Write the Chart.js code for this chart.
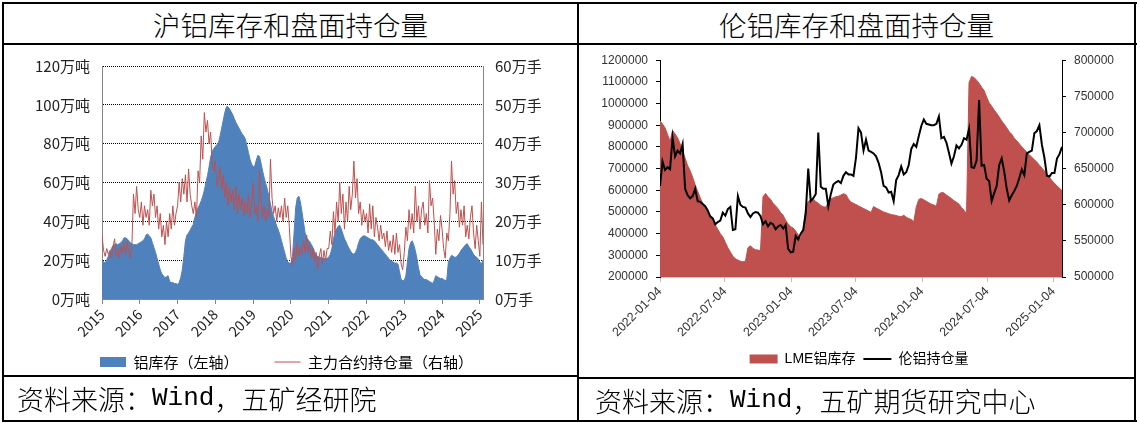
<!DOCTYPE html>
<html lang="zh-CN">
<head>
<meta charset="utf-8">
<title>铝库存和盘面持仓量</title>
<script src="https://cdn.jsdelivr.net/npm/chart.js@4.4.1/dist/chart.umd.min.js"></script>
<style>
  html, body { margin: 0; padding: 0; background: #fff; }
  body { width: 1140px; height: 423px; position: relative; overflow: hidden;
         font-family: "Noto Sans CJK SC", sans-serif; color: #000; }
  canvas { position: absolute; }
  .rule { position: absolute; background: #000; z-index: 3; }
  .title { position: absolute; top: 4px; height: 39px; display: flex; align-items: center;
           justify-content: center; font-size: 27.5px; font-weight: 300; white-space: nowrap; }
  .source { position: absolute; height: 42px; display: flex; align-items: center;
            font-size: 27px; font-weight: 300; white-space: nowrap; background: #fff; z-index: 2; }
  .source .latin { font-family: "Liberation Mono", monospace; font-size: 26px; }
</style>
</head>
<body>
  <div class="title" style="left:4px;width:573px">沪铝库存和盘面持仓量</div>
  <div class="title" style="left:579px;width:555px">伦铝库存和盘面持仓量</div>

  <canvas id="shfeChart" width="573" height="360" style="left:4px;top:45px"></canvas>
  <canvas id="lmeChart" width="555" height="340" style="left:579px;top:45px"></canvas>

  <div class="source" style="left:17px;top:377px">资料来源：<span class="latin">Wind</span>，五矿经研院</div>
  <div class="source" style="left:595px;top:379px">资料来源：<span class="latin">Wind</span>，五矿期货研究中心</div>

  <!-- table frame -->
  <div class="rule" style="left:2px;top:2px;width:1135px;height:2px"></div>
  <div class="rule" style="left:2px;top:420px;width:1135px;height:2px"></div>
  <div class="rule" style="left:2px;top:2px;width:2px;height:420px"></div>
  <div class="rule" style="left:1134px;top:2px;width:2px;height:420px"></div>
  <div class="rule" style="left:577px;top:2px;width:2px;height:420px"></div>
  <div class="rule" style="left:2px;top:43px;width:1135px;height:2px"></div>
  <div class="rule" style="left:2px;top:375px;width:577px;height:2px"></div>
  <div class="rule" style="left:577px;top:377px;width:559px;height:2px"></div>

<script>
// ---------- SHFE: half-monthly samples, Jan 2015 – Feb 2025 ----------
const years = ['2015', '2016', '2017', '2018', '2019', '2020', '2021', '2022', '2023', '2024', '2025'];
const SAMPLES_PER_YEAR = 24;

// 上期所铝库存（万吨）
const shfeStock = [
  20, 19, 18.5, 20, 22, 24, 26, 27.5, 28, 28.5, 28, 28.5, 29, 30, 31.5, 31.5, 31, 30, 29, 28.5, 28, 28, 28, 28.5,
  29, 29.5, 30, 31, 33, 33.5, 32.5, 31.5, 29, 26.5, 24, 21, 18, 15, 13, 12, 11, 11.5, 12, 9, 8.5, 8.5, 8, 8,
  7.5, 8.5, 11, 15, 22, 30, 33, 34, 35.5, 37, 38.5, 42, 45, 47, 48.5, 50.5, 53, 56, 60, 63.5, 68, 73, 76, 77.5,
  78.5, 79.5, 80.5, 84, 88, 92, 96, 99, 99, 98, 96.5, 95, 93, 91, 89.5, 88, 86.5, 85, 84, 82.5, 79, 75.5, 72, 69.5,
  68, 68.5, 71.5, 74, 73.5, 70, 66, 62.5, 59.5, 56.5, 53, 49, 45, 42.5, 40, 37.5, 35.5, 33, 30, 27, 24, 21, 19, 18.5,
  18.5, 22, 34, 47, 52, 53, 50, 45, 39.5, 34, 31.5, 30.5, 29.5, 28, 26.5, 24.5, 22.5, 22, 21.5, 21.5, 21, 21, 20.5, 21,
  21.5, 23, 26, 31, 34, 36, 37.5, 38, 36, 33.5, 31, 29.5, 27.5, 26, 24.5, 23.5, 23, 24, 26, 29, 31, 32, 32.5, 32.5,
  32, 31.5, 31, 30.5, 30.5, 30, 29, 28, 27, 26, 25, 24, 23, 22, 21, 20, 19.5, 19, 18.5, 18.5, 18, 14, 10, 9.5,
  9.5, 12, 19, 26, 29, 30, 28, 25, 21, 16, 12.5, 11.5, 10.5, 10, 10, 9.5, 9, 8.5, 8, 9.5, 12, 11.5, 11, 10.5,
  10.5, 10, 9.5, 10, 19, 21, 22.5, 22, 21.5, 21.5, 22.5, 23.5, 25, 26, 27, 28, 28.5, 27, 26, 24.5, 23, 22, 21.5, 20.5,
  19, 18, 20
];

// 沪铝主力合约持仓量（万手）
const shfeOpenInterest = [
  16.5, 12.5, 11, 13, 11.5, 12.5, 10.5, 13.5, 15.5, 11, 13, 10.5, 13.5, 12, 14.5, 11.5, 15, 12, 10.5, 14, 27, 22, 29, 23,
  21, 25, 19, 24, 21, 23, 19, 28, 24, 27, 21, 24, 18, 22, 16, 19, 14, 20, 16, 22, 18, 24, 19, 22,
  24, 30, 25, 31, 27, 32, 25, 33.5, 27, 24, 22, 25, 21, 33, 30, 42, 36, 48, 43, 46, 40, 43, 35, 33,
  35.5, 29, 31, 34, 28, 32, 26, 30, 24, 29, 25, 28, 23, 29, 22, 27, 23, 26, 21.5, 25, 22, 27, 21, 24,
  30, 22, 24, 20, 33, 25, 21, 24, 20, 23, 21, 36, 26, 22, 24, 20, 23.5, 21, 24, 20, 26, 21, 24, 18.5,
  11, 8.5, 13, 10, 14.5, 11, 13.5, 11.5, 15, 12, 16.5, 12, 14, 10.5, 13, 9.5, 12, 7.5, 11, 13, 9, 12.5, 10, 13,
  13, 17.5, 14, 22.5, 17, 25, 20, 30, 22, 27, 18, 25, 20, 29, 23, 27, 35.5, 26, 31, 22, 25, 19, 23, 20,
  22, 17, 24.5, 18, 24, 16, 21, 18.5, 15, 19, 15.5, 17, 13.5, 17.5, 12.5, 15, 12, 16.5, 11.5, 17, 12, 14, 9, 7.5,
  12, 18.5, 15, 23, 18, 22, 17, 29, 20, 24, 18, 23, 25, 19, 22, 17, 30.5, 24, 26, 20, 11.5, 18, 15, 21.5,
  18, 13, 10.5, 17, 15, 22, 35.5, 27, 30.5, 22, 25, 18.5, 23, 19, 24, 16, 19, 15.5, 21, 24, 17, 13, 19, 15,
  11, 25, 14
];

// ---------- LME: weekly samples from 2022-01-04 ----------
const lmeStartDate = '2022-01-04';
const lmeTickDates = ['2022-01-04', '2022-07-04', '2023-01-04', '2023-07-04', '2024-01-04', '2024-07-04', '2025-01-04'];
const DAYS_PER_SAMPLE = 7;

// LME铝库存（吨）
const lmeStock = [
  920000, 906000, 888000, 858000, 825000, 876000, 860000, 842000, 815000, 780000,
  748000, 714000, 690000, 660000, 625000, 595000, 565000, 540000, 520000, 500000,
  483000, 460000, 440000, 420000, 400000, 385000, 360000, 335000, 315000, 296000,
  284000, 278000, 273000, 270000, 272000, 335000, 344000, 332000, 326000, 324000,
  322000, 570000, 585000, 570000, 558000, 540000, 528000, 515000, 497000, 485000,
  462000, 445000, 432000, 426000, 412000, 395000, 378000, 420000, 520000, 548000,
  558000, 560000, 548000, 540000, 530000, 524000, 522000, 545000, 560000, 566000,
  570000, 572000, 578000, 584000, 580000, 560000, 545000, 540000, 534000, 528000,
  522000, 516000, 510000, 504000, 498000, 525000, 518000, 512000, 506000, 500000,
  496000, 492000, 488000, 486000, 484000, 480000, 478000, 485000, 476000, 470000,
  465000, 455000, 523000, 558000, 562000, 556000, 549000, 542000, 536000, 532000,
  526000, 582000, 590000, 588000, 578000, 570000, 562000, 552000, 545000, 536000,
  520000, 508000, 492000, 1096000, 1125000, 1120000, 1108000, 1094000, 1075000, 1060000,
  1030000, 1004000, 988000, 970000, 955000, 938000, 920000, 905000, 888000, 870000,
  858000, 840000, 828000, 815000, 800000, 788000, 775000, 764000, 752000, 741000,
  730000, 716000, 702000, 690000, 675000, 660000, 645000, 632000, 620000, 610000, 598000
];

// 伦铝持仓量（手）
const lmeOpenInterest = [
  626000, 660000, 648000, 652000, 649000, 693000, 667000, 675000, 671000, 684000,
  622000, 613000, 609000, 612000, 622000, 605000, 604000, 601000, 598000, 592000,
  584000, 581000, 573000, 576000, 578000, 589000, 585000, 594000, 597000, 565000,
  566000, 612000, 600000, 597000, 596000, 588000, 583000, 588000, 590000, 589000,
  584000, 573000, 577000, 570000, 575000, 573000, 566000, 570000, 572000, 567000,
  572000, 539000, 534000, 535000, 557000, 552000, 560000, 565000, 588000, 650000,
  605000, 609000, 615000, 700000, 625000, 622000, 622000, 598000, 615000, 628000,
  631000, 633000, 630000, 640000, 645000, 642000, 642000, 640000, 665000, 706000,
  700000, 675000, 690000, 675000, 673000, 671000, 667000, 658000, 645000, 626000,
  624000, 617000, 618000, 605000, 634000, 641000, 653000, 642000, 645000, 655000,
  677000, 684000, 680000, 695000, 709000, 718000, 712000, 711000, 710000, 710000,
  712000, 722000, 692000, 694000, 686000, 672000, 657000, 667000, 682000, 678000,
  683000, 692000, 690000, 705000, 652000, 651000, 661000, 745000, 654000, 655000,
  636000, 633000, 605000, 616000, 626000, 655000, 664000, 646000, 622000, 606000,
  613000, 619000, 626000, 637000, 649000, 641000, 671000, 673000, 675000, 699000,
  702000, 710000, 683000, 665000, 640000, 639000, 644000, 644000, 664000, 670000, 680000
];

// ---------- helpers ----------
const CJK = '"Noto Sans CJK SC", sans-serif';
const ARIAL = '"Liberation Sans", "Noto Sans CJK SC", sans-serif';
const dayOf = d => (Date.parse(d) - Date.parse(lmeStartDate)) / 86400000;

// legend entries: filled series get a box, line series get a short stroke
const legendItems = chart => chart.data.datasets.map((ds, i) => ({
  text: ds.label,
  datasetIndex: i,
  hidden: false,
  fillStyle: ds.fill ? ds.backgroundColor : 'rgba(0,0,0,0)',
  strokeStyle: ds.borderColor,
  lineWidth: ds.fill ? 0 : ds.borderWidth,
  pointStyle: ds.fill ? 'rect' : 'line'
}));

// moves the legend row vertically after layout (wide item gaps need a large label padding)
const legendShift = {
  id: 'legendShift',
  afterLayout(chart, args, opts) {
    const dy = opts.dy || 0;
    if (chart.legend && dy) {
      chart.legend.top += dy;
      chart.legend.bottom += dy;
    }
  }
};

Chart.defaults.color = '#222';

// ---------- 沪铝库存和盘面持仓量 ----------
new Chart(document.getElementById('shfeChart'), {
  type: 'line',
  plugins: [legendShift],
  data: {
    datasets: [
      {
        label: '铝库存（左轴）',
        data: shfeStock.map((v, i) => ({ x: i, y: v })),
        yAxisID: 'y',
        backgroundColor: '#4F81BD',
        borderColor: '#4F81BD',
        borderWidth: 1,
        fill: 'start',
        pointRadius: 0,
        order: 2
      },
      {
        label: '主力合约持仓量（右轴）',
        data: shfeOpenInterest.map((v, i) => ({ x: i, y: v })),
        yAxisID: 'y1',
        borderColor: '#C0504D',
        borderWidth: 1,
        fill: false,
        pointRadius: 0,
        order: 1
      }
    ]
  },
  options: {
    responsive: false,
    animation: false,
    devicePixelRatio: 1,
    layout: { padding: { left: 0, right: 8, top: 17, bottom: 0 } },
    plugins: {
      tooltip: { enabled: false },
      legendShift: { dy: -25.5 },
      legend: {
        position: 'bottom',
        labels: {
          usePointStyle: true,
          pointStyleWidth: 26,
          boxHeight: 10,
          padding: 36,
          color: '#222',
          font: { family: CJK, size: 15 },
          generateLabels: legendItems
        }
      }
    },
    scales: {
      x: {
        type: 'linear',
        min: 0,
        max: shfeStock.length - 1,
        afterBuildTicks: s => { s.ticks = years.map((_, k) => ({ value: k * SAMPLES_PER_YEAR })); },
        afterFit: s => { s.height = 45; },
        grid: { drawOnChartArea: false, drawTicks: true, tickLength: 5, color: '#868686' },
        border: { color: '#868686' },
        ticks: {
          autoSkip: false, minRotation: 45, maxRotation: 45, padding: 2,
          color: '#222', font: { family: CJK, size: 14 },
          callback: v => years[Math.round(v / SAMPLES_PER_YEAR)]
        }
      },
      y: {
        position: 'left',
        min: 0,
        max: 120,
        afterFit: s => { s.width = 98; },
        grid: {
          drawTicks: false,
          lineWidth: 1,
          color: c => (c.tick && c.tick.value === 0) ? 'rgba(0,0,0,0)' : '#000'
        },
        border: { color: '#868686', dash: [1, 1] },
        ticks: {
          stepSize: 20, padding: 12, color: '#222', font: { family: CJK, size: 15 },
          callback: v => v + '万吨'
        }
      },
      y1: {
        position: 'right',
        min: 0,
        max: 60,
        afterFit: s => { s.width = 86; },
        grid: { drawOnChartArea: false, drawTicks: false },
        border: { color: '#868686' },
        ticks: {
          stepSize: 10, padding: 12, color: '#222', font: { family: CJK, size: 15 },
          callback: v => v + '万手'
        }
      }
    }
  }
});

// ---------- 伦铝库存和盘面持仓量 ----------
new Chart(document.getElementById('lmeChart'), {
  type: 'line',
  data: {
    datasets: [
      {
        label: 'LME铝库存',
        data: lmeStock.map((v, k) => ({ x: k * DAYS_PER_SAMPLE, y: v })),
        yAxisID: 'y',
        backgroundColor: '#C0504D',
        borderColor: '#C0504D',
        borderWidth: 1,
        fill: 'start',
        pointRadius: 0,
        order: 2
      },
      {
        label: '伦铝持仓量',
        data: lmeOpenInterest.map((v, k) => ({ x: k * DAYS_PER_SAMPLE, y: v })),
        yAxisID: 'y1',
        borderColor: '#000',
        borderWidth: 2,
        fill: false,
        pointRadius: 0,
        order: 1
      }
    ]
  },
  options: {
    responsive: false,
    animation: false,
    devicePixelRatio: 1,
    layout: { padding: { left: 5, right: 0, top: 8, bottom: 9 } },
    plugins: {
      tooltip: { enabled: false },
      legend: {
        position: 'bottom',
        labels: {
          usePointStyle: true,
          pointStyleWidth: 28,
          boxHeight: 9,
          padding: 8,
          color: '#222',
          font: { family: ARIAL, size: 14 },
          generateLabels: legendItems
        }
      }
    },
    scales: {
      x: {
        type: 'linear',
        min: 0,
        max: (lmeStock.length - 1) * DAYS_PER_SAMPLE,
        afterBuildTicks: s => { s.ticks = lmeTickDates.map(d => ({ value: dayOf(d) })); },
        afterFit: s => { s.height = 67; },
        grid: { drawOnChartArea: false, tickLength: 5, color: '#BFBFBF' },
        border: { color: '#BFBFBF' },
        ticks: {
          autoSkip: false, minRotation: 45, maxRotation: 45, padding: 2,
          color: '#333', font: { family: ARIAL, size: 12.5 },
          callback: (v, i) => lmeTickDates[i]
        }
      },
      y: {
        position: 'left',
        min: 200000,
        max: 1200000,
        afterFit: s => { s.width = 76; },
        grid: { drawOnChartArea: false, tickLength: 4, color: '#000' },
        border: { color: '#000' },
        ticks: {
          stepSize: 100000, padding: 8, color: '#333', font: { family: ARIAL, size: 12 },
          callback: v => String(v)
        }
      },
      y1: {
        position: 'right',
        min: 500000,
        max: 800000,
        afterFit: s => { s.width = 72; },
        grid: { drawOnChartArea: false, tickLength: 4, color: '#000' },
        border: { color: '#000' },
        ticks: {
          stepSize: 50000, padding: 8, color: '#333', font: { family: ARIAL, size: 12 },
          callback: v => String(v)
        }
      }
    }
  }
});
</script>
</body>
</html>
